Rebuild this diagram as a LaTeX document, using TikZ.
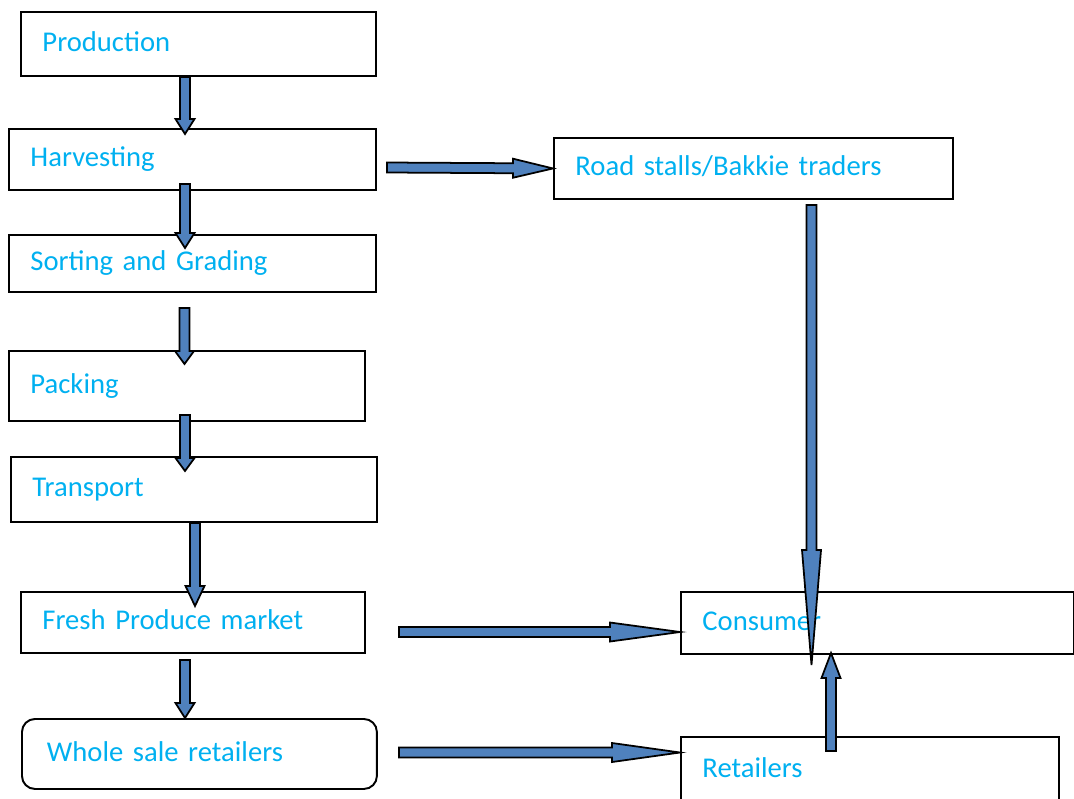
\documentclass[tikz,border=0pt]{standalone}
\usepackage{fontspec}
\setmainfont{Carlito}
\usetikzlibrary{calc}
\definecolor{txtblue}{HTML}{00B0F0}
\definecolor{arrblue}{HTML}{4F81BD}
\tikzset{
  box/.style={draw, line width=1.1pt, anchor=north west, inner xsep=0.43cm, inner ysep=0pt,
    align=left, text=txtblue, font=\fontsize{16.3}{19}\selectfont, text height=0.42cm, text depth=0.12cm},
  blockarr/.style={draw, line width=1pt, fill=arrblue, line join=miter}
}
\newcommand{\blockarrow}[3]{%
  \coordinate (hb) at ($(#2)!#3!(#1)$);
  \filldraw[blockarr] ($(#1)!0.1cm!90:(#2)$) -- ($(hb)!0.1cm!90:(#2)$) -- ($(hb)!0.19cm!90:(#2)$)
    -- (#2) -- ($(hb)!0.19cm!-90:(#2)$) -- ($(hb)!0.1cm!-90:(#2)$) -- ($(#1)!0.1cm!-90:(#2)$) -- cycle;}
\begin{document}
\begin{tikzpicture}[x=0.02cm, y=-0.02cm]
  \useasboundingbox (0,0) rectangle (1074,798);
  \clip (0,0) rectangle (1074,798);

  \node[box, text width=6.24cm, minimum height=1.28cm] (prod) at (20,11) {Production};
  \node[box, text width=6.48cm, minimum height=1.22cm] (harv) at (8,128) {Harvesting};
  \node[box, text width=6.48cm, minimum height=1.14cm] (sort) at (8,234) {Sorting and Grading};
  \node[box, text width=6.26cm, minimum height=1.40cm] (pack) at (8,350) {Packing};
  \node[box, text width=6.46cm, minimum height=1.30cm] (trans) at (10,456) {Transport};
  \node[box, text width=6.02cm, minimum height=1.22cm] (fresh) at (20,591) {Fresh Produce market};
  \node[box, text width=6.10cm, minimum height=1.40cm, inner xsep=0.5cm, rounded corners=0.26cm] (whole) at (21,718) {Whole sale retailers};
  \node[box, text width=7.12cm, minimum height=1.22cm] (road) at (553,137) {Road stalls/Bakkie traders};
  \node[box, text width=7.00cm, minimum height=1.24cm] (cons) at (680,591) {Consumer};
  \node[box, text width=6.70cm, minimum height=1.32cm] (retail) at (680,736) {Retailers};

  \coordinate (a1s) at (185,77);    \coordinate (a1t) at (185,134);
  \coordinate (a2s) at (185,184);   \coordinate (a2t) at (185,248);
  \coordinate (a3s) at (184.5,308); \coordinate (a3t) at (184.5,364);
  \coordinate (a4s) at (185,415);   \coordinate (a4t) at (185,471);
  \coordinate (a5s) at (195,523);   \coordinate (a5t) at (195,606);
  \coordinate (a6s) at (185,660);   \coordinate (a6t) at (185,718);
  \coordinate (a7s) at (387,167.5);
  \coordinate (a8s) at (399,632);   \coordinate (a8t) at (680,632);
  \coordinate (a9s) at (399,752.5); \coordinate (a9t) at (680,752.5);
  \coordinate (a10s) at (811.5,205); \coordinate (a10t) at (811.5,665);
  \coordinate (a11s) at (831,751);  \coordinate (a11t) at (831,653);

  \blockarrow{a1s}{a1t}{0.3cm}
  \blockarrow{a2s}{a2t}{0.3cm}
  \blockarrow{a3s}{a3t}{0.26cm}
  \blockarrow{a4s}{a4t}{0.26cm}
  \blockarrow{a5s}{a5t}{0.4cm}
  \blockarrow{a6s}{a6t}{0.3cm}
  \blockarrow{a7s}{road.west}{0.8cm}
  \blockarrow{a8s}{a8t}{1.4cm}
  \blockarrow{a9s}{a9t}{1.36cm}
  \blockarrow{a10s}{a10t}{2.3cm}
  \blockarrow{a11s}{a11t}{0.5cm}
\end{tikzpicture}
\end{document}
